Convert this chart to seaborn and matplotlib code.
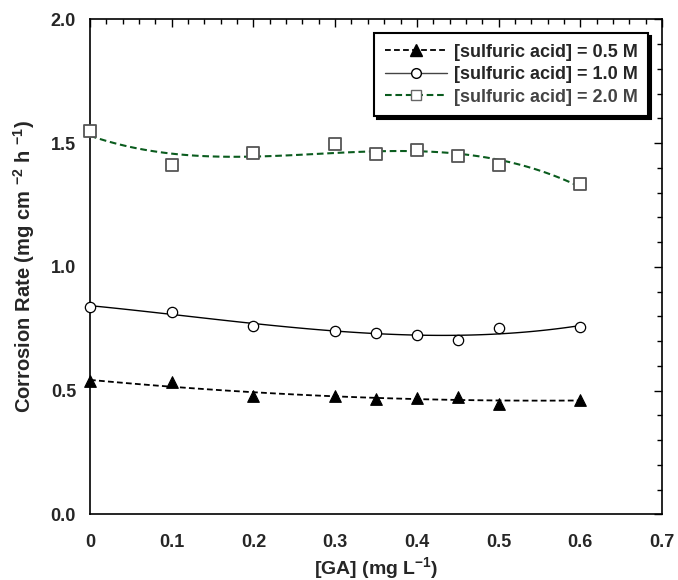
import numpy as np
import pandas as pd
import matplotlib
matplotlib.use("Agg")
import matplotlib.pyplot as plt
from matplotlib.lines import Line2D
from matplotlib.ticker import MultipleLocator, FuncFormatter
import seaborn as sns

# ---- data ----
ga = [0.0, 0.1, 0.2, 0.3, 0.35, 0.4, 0.45, 0.5, 0.6]
rate_05 = [0.537, 0.533, 0.478, 0.478, 0.467, 0.469, 0.475, 0.447, 0.462]
rate_10 = [0.839, 0.819, 0.762, 0.742, 0.733, 0.723, 0.703, 0.753, 0.757]
rate_20 = [1.547, 1.413, 1.461, 1.496, 1.455, 1.472, 1.449, 1.410, 1.335]
labels = ["[sulfuric acid] = 0.5 M", "[sulfuric acid] = 1.0 M", "[sulfuric acid] = 2.0 M"]
x_ticks = [0, 0.1, 0.2, 0.3, 0.4, 0.5, 0.6, 0.7]
y_ticks = [0.0, 0.5, 1.0, 1.5, 2.0]

sns.set_theme(style="white")
plt.rcParams["font.family"] = ["Liberation Sans", "DejaVu Sans"]
plt.rcParams["font.weight"] = "bold"
plt.rcParams["mathtext.default"] = "regular"
plt.rcParams["axes.unicode_minus"] = False

fig = plt.figure(figsize=(6.78, 5.8), dpi=100)
ax = fig.add_axes([0.1327, 0.1133, 0.9764 - 0.1327, 0.9667 - 0.1133])

df = pd.DataFrame({"ga": ga, "r05": rate_05, "r10": rate_10, "r20": rate_20})

green = "#0a5c1e"
dash = (0, (3.2, 1.8))

# fit lines
sns.regplot(data=df, x="ga", y="r05", order=2, ci=None, scatter=False, ax=ax,
            line_kws=dict(color="black", lw=1.3, linestyle=dash))
sns.regplot(data=df, x="ga", y="r10", order=3, ci=None, scatter=False, ax=ax,
            line_kws=dict(color="black", lw=1.0, linestyle="-"))
sns.regplot(data=df, x="ga", y="r20", order=3, ci=None, scatter=False, ax=ax,
            line_kws=dict(color=green, lw=1.5, linestyle=dash))

# markers
sns.scatterplot(data=df, x="ga", y="r05", marker="^", s=70, color="black",
                edgecolor="black", linewidth=0.8, ax=ax, zorder=5, clip_on=False)
sns.scatterplot(data=df, x="ga", y="r10", marker="o", s=55, facecolor="white",
                edgecolor="black", linewidth=0.9, ax=ax, zorder=5, clip_on=False)
sns.scatterplot(data=df, x="ga", y="r20", marker="s", s=70, facecolor="white",
                edgecolor="#555555", linewidth=1.3, ax=ax, zorder=5, clip_on=False)

ax.set_xlim(0, 0.7)
ax.set_ylim(0, 2.0)
ax.set_xticks(x_ticks)
ax.set_yticks(y_ticks)
ax.xaxis.set_minor_locator(MultipleLocator(0.02))
ax.yaxis.set_minor_locator(MultipleLocator(0.1))
ax.xaxis.set_major_formatter(FuncFormatter(lambda v, p: "0" if abs(v) < 1e-9 else f"{v:.1f}"))
ax.yaxis.set_major_formatter(FuncFormatter(lambda v, p: f"{v:.1f}"))
ax.tick_params(which="both", direction="in", top=True, right=True, color="black",
               width=1.0)
ax.tick_params(which="major", length=6, labelsize=13)
ax.tick_params(which="minor", length=3.5)
ax.tick_params(axis="x", which="major", pad=14)
ax.tick_params(axis="y", which="major", pad=10)
for lab in ax.get_xticklabels() + ax.get_yticklabels():
    lab.set_fontweight("bold")
for sp in ax.spines.values():
    sp.set_color("black")
    sp.set_linewidth(1.2)

ax.set_xlabel("[GA] (mg L$^{-1}$)", fontsize=14, fontweight="bold", labelpad=3)
ax.set_ylabel("Corrosion Rate (mg cm $^{-2}$ h $^{-1}$)", fontsize=14.5,
              fontweight="bold", labelpad=10)

handles = [
    Line2D([], [], color="black", lw=1.3, linestyle=dash, marker="^",
           markersize=8, markerfacecolor="black", markeredgecolor="black"),
    Line2D([], [], color="#444444", lw=1.0, linestyle="-", marker="o",
           markersize=7, markerfacecolor="white", markeredgecolor="black"),
    Line2D([], [], color=green, lw=1.5, linestyle=dash, marker="s",
           markersize=7, markerfacecolor="white", markeredgecolor="#666666"),
]
leg = ax.legend(handles, labels, loc="upper right", fancybox=False,
                shadow={"color": "black", "alpha": 1.0}, framealpha=1,
                edgecolor="black", handlelength=3.4, borderaxespad=0.75,
                prop={"weight": "bold", "size": 13}, labelspacing=0.3,
                handletextpad=0.4, borderpad=0.6)
leg.get_frame().set_linewidth(1.5)
leg.get_texts()[2].set_color("#444444")

fig.savefig("out.png", dpi=100)
